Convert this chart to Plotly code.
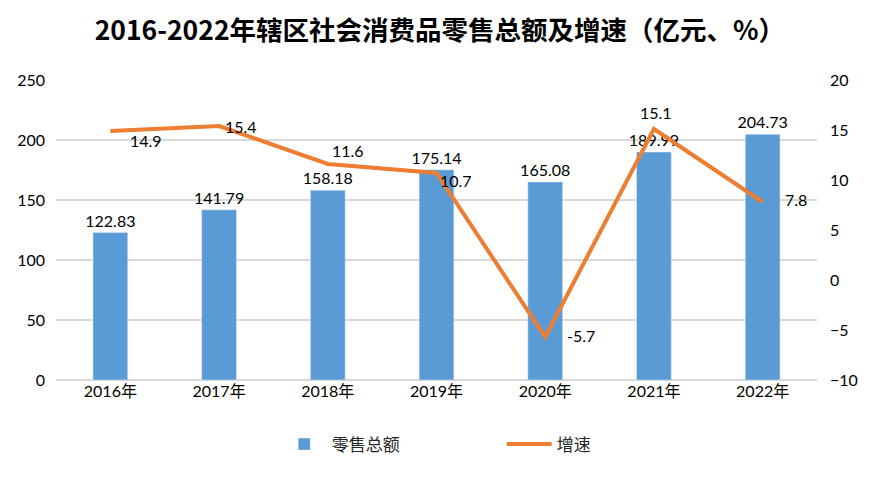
import plotly.graph_objects as go

years = ["2016年", "2017年", "2018年", "2019年", "2020年", "2021年", "2022年"]
sales = [122.83, 141.79, 158.18, 175.14, 165.08, 189.99, 204.73]
growth = [14.9, 15.4, 11.6, 10.7, -5.7, 15.1, 7.8]

# label nudges (px) for the growth line labels
label_shift = [(36, -9), (22, 0), (20, 14), (19, -7), (36, 2), (2, 17), (33, 3)]

FONT = "Lato, Noto Sans CJK SC, sans-serif"

fig = go.Figure()
fig.add_trace(go.Bar(
    x=years, y=sales, name="零售总额",
    marker=dict(color="#5B9BD5"),
    width=0.32,
    text=[f"{v:.2f}" for v in sales], textposition="outside",
    constraintext="none",
    textfont=dict(size=16, color="#000000"),
    cliponaxis=False,
))
fig.add_trace(go.Scatter(
    x=years, y=growth, name="增速", yaxis="y2",
    mode="lines",
    line=dict(color="#ED7D31", width=4),
    cliponaxis=False,
))

for yr, g, (dx, dy) in zip(years, growth, label_shift):
    fig.add_annotation(x=yr, y=g, yref="y2", text=str(g), showarrow=False,
                       xshift=dx, yshift=dy,
                       font=dict(size=16, color="#000000"))

fig.update_layout(
    width=871, height=479,
    margin=dict(l=56, r=54, t=80, b=99),
    paper_bgcolor="white", plot_bgcolor="white",
    font=dict(family=FONT, size=16, color="#000000"),
    title=dict(text="<b>2016-2022年辖区社会消费品零售总额及增速（亿元、%）</b>",
               x=0.505, xanchor="center", y=0.935, yanchor="middle",
               font=dict(size=26.5, family="Noto Sans CJK SC", color="#000000")),
    xaxis=dict(showgrid=False, showline=False, ticks="", automargin=False,
               tickfont=dict(size=16)),
    yaxis=dict(range=[0, 250], dtick=50, showgrid=True, gridcolor="#D9D9D9",
               gridwidth=2, zeroline=True, zerolinecolor="#D9D9D9", zerolinewidth=2,
               showline=False, ticks="", tickfont=dict(size=16), automargin=False,
               ticklabelstandoff=10),
    yaxis2=dict(range=[-10, 20], dtick=5, overlaying="y", side="right",
                showgrid=False, zeroline=False, showline=False, ticks="",
                automargin=False,
                tickfont=dict(size=16), ticklabelstandoff=12),
    legend=dict(orientation="h", x=0.29, xanchor="left", y=-0.155, yanchor="top",
                font=dict(size=17, color="#262626"), itemwidth=45, traceorder="normal",
                entrywidthmode="pixels", entrywidth=165),
    showlegend=True,
)

fig.write_html("out.html", config={"displayModeBar": False},
               post_script="document.body.style.margin='0px';")
